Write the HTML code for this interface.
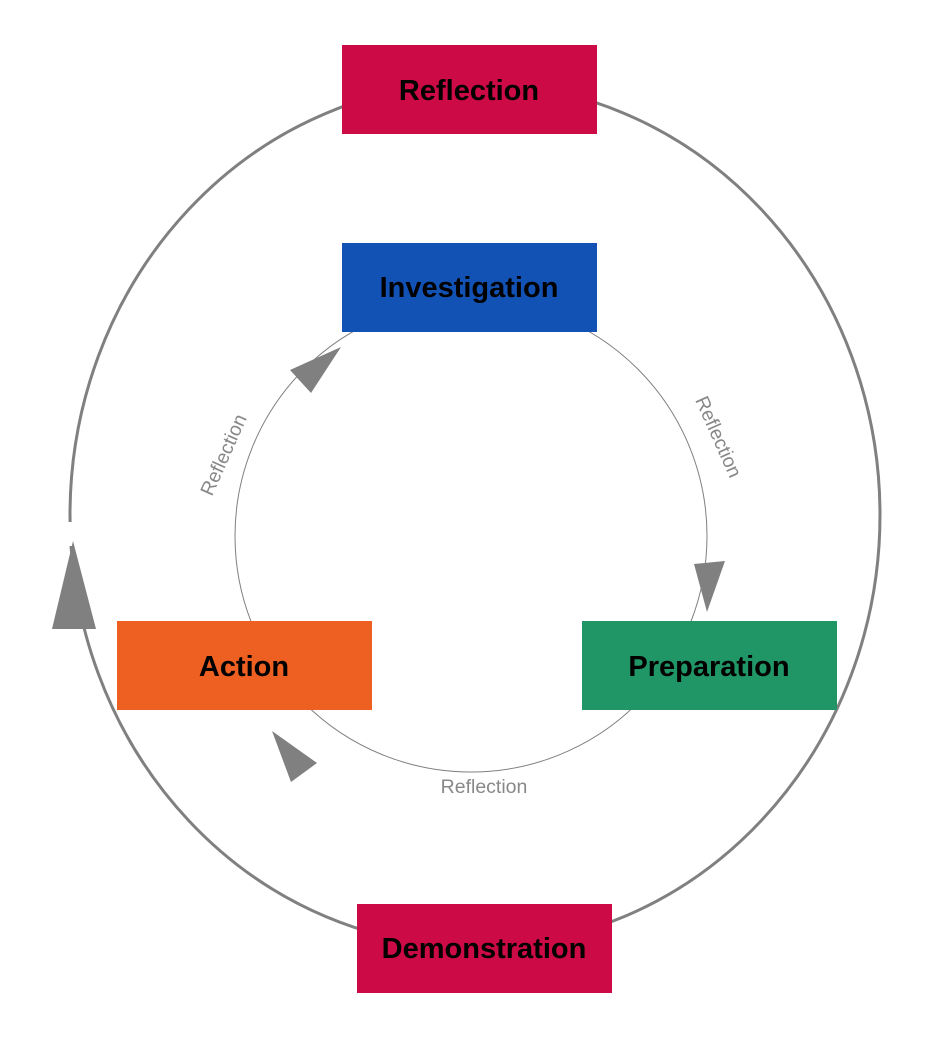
<!DOCTYPE html>
<html><head><style>
html,body{margin:0;padding:0;background:#fff;}
svg{display:block;}
text{font-family:"Liberation Sans",sans-serif;}
.b{font-weight:bold;font-size:29px;fill:#000;text-anchor:middle;}
.l{font-size:19.5px;fill:#888;text-anchor:middle;}
</style></head><body>
<svg width="952" height="1064" viewBox="0 0 952 1064">
<ellipse cx="475" cy="515" rx="405" ry="432" fill="none" stroke="#808080" stroke-width="3"/>
<rect x="60" y="522" width="22" height="24" fill="#fff"/>
<circle cx="471" cy="536" r="236" fill="none" stroke="#808080" stroke-width="1"/>
<polygon points="73,541 52,629 96,629" fill="#808080"/>
<polygon points="341,347 290,370 311,393" fill="#808080"/>
<polygon points="272,731 291,782 317,763" fill="#808080"/>
<polygon points="707,612 694,564 725,561" fill="#808080"/>
<rect x="342" y="45" width="255" height="89" fill="#cc0a45"/>
<text class="b" x="469" y="100">Reflection</text>
<rect x="342" y="243" width="255" height="89" fill="#1352b5"/>
<text class="b" x="469" y="297">Investigation</text>
<rect x="117" y="621" width="255" height="89" fill="#ee5f22"/>
<text class="b" x="244" y="676">Action</text>
<rect x="582" y="621" width="255" height="89" fill="#209667"/>
<text class="b" x="709" y="676">Preparation</text>
<rect x="357" y="904" width="255" height="89" fill="#cc0a45"/>
<text class="b" x="484" y="958">Demonstration</text>
<text class="l" transform="translate(718,437) rotate(66)" y="6">Reflection</text>
<text class="l" transform="translate(224,455) rotate(-66)" y="6">Reflection</text>
<text class="l" x="484" y="793">Reflection</text>
</svg>
</body></html>
